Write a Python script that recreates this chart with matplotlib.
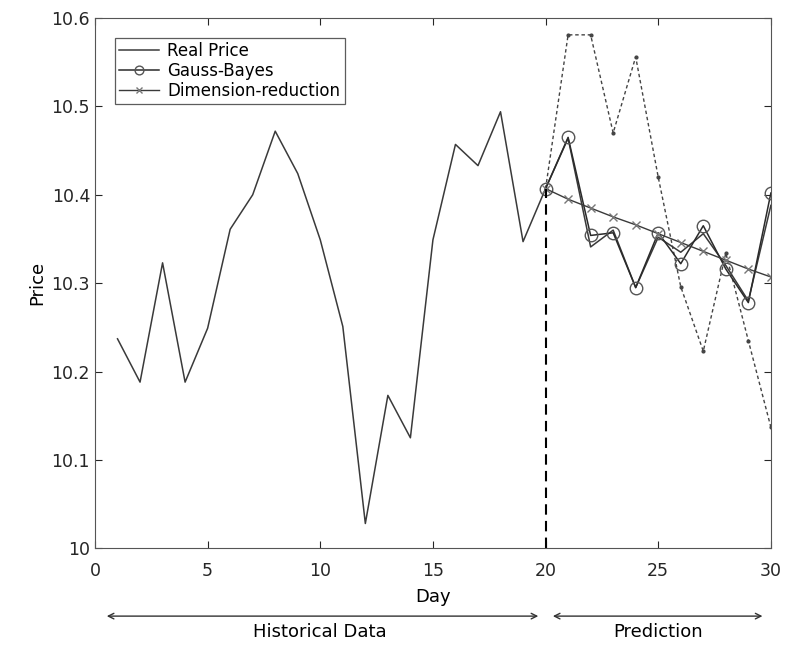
import matplotlib
matplotlib.use('Agg')
import matplotlib.pyplot as plt
import matplotlib.transforms as transforms

# historical + real price (days 1-30)
days = list(range(1, 31))
real_price = [10.237, 10.188, 10.323, 10.188, 10.249, 10.361, 10.400, 10.472, 10.424, 10.349,
              10.251, 10.028, 10.173, 10.125, 10.349, 10.457, 10.433, 10.494, 10.347, 10.407,
              10.464, 10.341, 10.360, 10.295, 10.352, 10.335, 10.356, 10.320, 10.280, 10.388]

# prediction (days 20-30)
pred_days = list(range(20, 31))
gauss_bayes = [10.407, 10.465, 10.354, 10.357, 10.295, 10.357, 10.322, 10.365, 10.316, 10.278, 10.402]
dim_reduction = [10.407, 10.395, 10.385, 10.375, 10.366, 10.356, 10.346, 10.336, 10.326, 10.316, 10.307]
other_pred = [10.407, 10.581, 10.581, 10.470, 10.556, 10.420, 10.296, 10.223, 10.334, 10.235, 10.137]

split_day = 20

fig = plt.figure(figsize=(7.85, 6.45), dpi=100)
ax = fig.add_axes([0.121, 0.150, 0.861, 0.822])

ax.plot(pred_days, other_pred, color='#444444', linestyle=(0, (2.5, 2)), linewidth=1.0,
        marker='.', markersize=4)
ax.plot(days, real_price, color='#3a3a3a', linewidth=1.1, label='Real Price')
ax.plot(pred_days, gauss_bayes, color='#2a2a2a', linewidth=1.1, marker='o', markersize=9,
        markerfacecolor='none', markeredgecolor='#555555', label='Gauss-Bayes')
ax.plot(pred_days, dim_reduction, color='#3a3a3a', linewidth=1.0, marker='x', markersize=6,
        markeredgecolor='#777777', label='Dimension-reduction')
ax.plot([split_day, split_day], [10.0, real_price[split_day - 1]], color='black',
        linestyle=(0, (5, 3)), linewidth=1.5)

ax.set_xlim(0, 30)
ax.set_ylim(10.0, 10.6)
ax.set_xticks([0, 5, 10, 15, 20, 25, 30])
ax.set_yticks([10.0, 10.1, 10.2, 10.3, 10.4, 10.5, 10.6])
ax.set_yticklabels(['10', '10.1', '10.2', '10.3', '10.4', '10.5', '10.6'])
ax.tick_params(direction='in', top=True, right=True, labelsize=12.5, length=5, colors='#262626')
ax.tick_params(axis='x', pad=10)
for s in ax.spines.values():
    s.set_color('#555555')
ax.set_xlabel('Day', fontsize=13, labelpad=6)
ax.set_ylabel('Price', fontsize=13)

leg = ax.legend(loc='upper left', fontsize=12, frameon=True, fancybox=False, edgecolor='#333333',
                borderaxespad=1.2, handlelength=2.4, labelspacing=0.1, borderpad=0.25,
                markerscale=0.7, handletextpad=0.5)
leg.get_frame().set_linewidth(0.9)

# bottom annotations
trans = transforms.blended_transform_factory(ax.transData, ax.transAxes)
arrow_y = -0.128
ax.annotate('', xy=(0.4, arrow_y), xytext=(19.8, arrow_y), xycoords=trans, textcoords=trans,
            arrowprops=dict(arrowstyle='<->', color='#333333', lw=1.0), annotation_clip=False)
ax.annotate('', xy=(20.2, arrow_y), xytext=(29.75, arrow_y), xycoords=trans, textcoords=trans,
            arrowprops=dict(arrowstyle='<->', color='#333333', lw=1.0), annotation_clip=False)
ax.text(10.0, -0.158, 'Historical Data', transform=trans, ha='center', va='center', fontsize=13)
ax.text(25.0, -0.158, 'Prediction', transform=trans, ha='center', va='center', fontsize=13)

fig.savefig('out.png', dpi=100)
